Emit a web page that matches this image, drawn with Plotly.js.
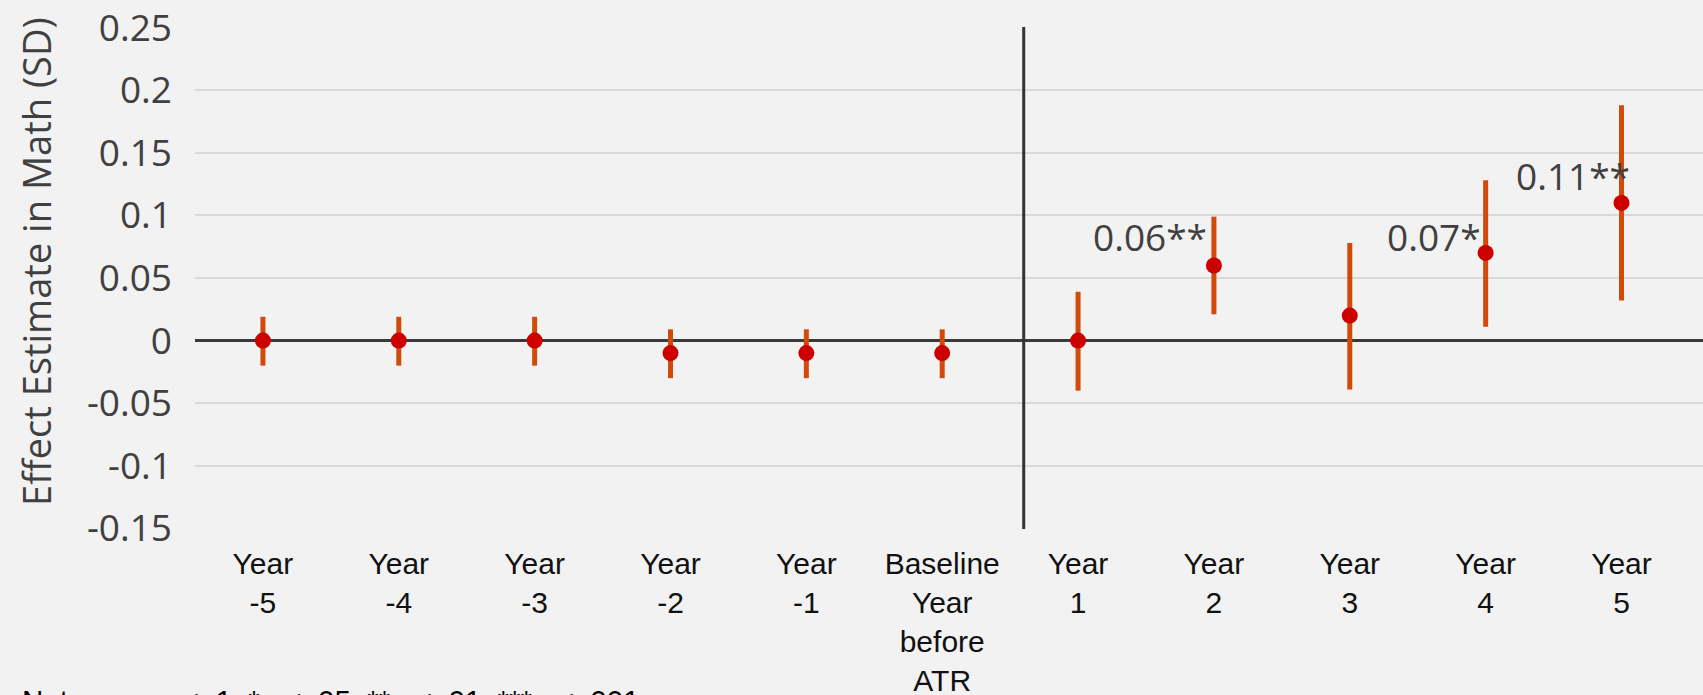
<!DOCTYPE html>
<html>
<head>
<meta charset="utf-8">
<script src="https://cdn.plot.ly/plotly-3.0.1.min.js"></script>
<style>
  html, body { margin: 0; padding: 0; background: #f2f2f2; }
  #chart { width: 1703px; height: 695px; }
</style>
</head>
<body>
<div id="chart"></div>
<script>
// ---- data ----
const categories = ['Year -5', 'Year -4', 'Year -3', 'Year -2', 'Year -1', 'Baseline Year before ATR',
                    'Year 1', 'Year 2', 'Year 3', 'Year 4', 'Year 5'];
const tickLabels = ['Year<br>-5', 'Year<br>-4', 'Year<br>-3', 'Year<br>-2', 'Year<br>-1',
                    'Baseline<br>Year<br>before<br>ATR', 'Year<br>1', 'Year<br>2', 'Year<br>3', 'Year<br>4', 'Year<br>5'];
const estimates = [0, 0, 0, -0.01, -0.01, -0.01, 0, 0.06, 0.02, 0.07, 0.11];
const ciUpper   = [0.019, 0.019, 0.019, 0.009, 0.009, 0.009, 0.039, 0.099, 0.078, 0.128, 0.188];
const ciLower   = [-0.02, -0.02, -0.02, -0.03, -0.03, -0.03, -0.04, 0.021, -0.039, 0.011, 0.032];
const sigLabels = ['', '', '', '', '', '', '', '0.06**', '', '0.07*', '0.11**'];
const yTickVals = [0.25, 0.2, 0.15, 0.1, 0.05, 0, -0.05, -0.1, -0.15];
const yTickText = ['0.25', '0.2', '0.15', '0.1', '0.05', '0', '-0.05', '-0.1', '-0.15'];
const atrStart = 5.6;   // position of the vertical divider (category index units)
const yTitle = 'Effect Estimate in Math (SD)';
const notesText = 'Notes:&nbsp;&nbsp;&nbsp; ~p < .1, *p < .05, **p < .01, ***p < .001';

// ---- styles ----
const labelShift = {7: [-5, 29], 9: [-3, 16], 10: [11, 27]};
const openSans = 'Open Sans, sans-serif';

const trace = {
  type: 'scatter',
  mode: 'markers',
  x: categories,
  y: estimates,
  marker: { color: '#cc0000', size: 16 },
  error_y: {
    type: 'data',
    symmetric: false,
    array: ciUpper.map((u, i) => u - estimates[i]),
    arrayminus: ciLower.map((l, i) => estimates[i] - l),
    color: '#d24a0a',
    thickness: 5,
    width: 0
  },
  hoverinfo: 'x+y',
  showlegend: false
};

const annotations = [];
sigLabels.forEach((t, i) => {
  if (!t) return;
  const s = labelShift[i] || [0, 20];
  annotations.push({
    x: categories[i], y: estimates[i], xref: 'x', yref: 'y',
    text: t, showarrow: false, xanchor: 'right', yanchor: 'middle',
    xshift: s[0], yshift: s[1],
    font: { family: openSans, size: 37, color: '#404040' }
  });
});
// y-axis title (placed as a rotated annotation to match the reference position)
annotations.push({
  x: 0, y: 0.532, xref: 'paper', yref: 'paper', xanchor: 'center', yanchor: 'middle',
  xshift: -159, textangle: -90, showarrow: false,
  text: yTitle,
  font: { family: openSans, size: 38, color: '#404040' }
});
// notes line, cut by the bottom edge as in the reference
annotations.push({
  x: 0, y: -0.304, xref: 'paper', yref: 'paper', xanchor: 'left', yanchor: 'top',
  xshift: -195 + 20,
  text: notesText, showarrow: false,
  font: { family: 'Liberation Sans, Arial, sans-serif', size: 29.5, color: '#000000' }
});

const layout = {
  width: 1703, height: 695,
  margin: { l: 195, r: 0, t: 27, b: 166, pad: 0 },
  paper_bgcolor: '#f2f2f2',
  plot_bgcolor: '#f2f2f2',
  showlegend: false,
  xaxis: {
    type: 'category',
    range: [-0.5, 10.6],
    tickvals: categories,
    ticktext: tickLabels,
    showgrid: false,
    zeroline: false,
    showline: false,
    ticks: '',
    ticklabelstandoff: 14,
    tickfont: { family: 'Liberation Sans, Arial, sans-serif', size: 30, color: '#111111' },
    fixedrange: true
  },
  yaxis: {
    range: [-0.1505, 0.2505],
    tickvals: yTickVals,
    ticktext: yTickText,
    showgrid: true,
    gridcolor: '#d9d9d9',
    gridwidth: 2,
    zeroline: true,
    zerolinecolor: '#3a3a3a',
    zerolinewidth: 3.5,
    showline: false,
    ticks: '',
    ticklabelstandoff: 22,
    tickfont: { family: openSans, size: 37, color: '#404040' },
    fixedrange: true
  },
  shapes: [{
    type: 'line', xref: 'x', yref: 'paper',
    x0: atrStart, x1: atrStart, y0: 0, y1: 1,
    line: { color: '#333333', width: 3 },
    layer: 'above'
  }],
  annotations: annotations
};

Plotly.newPlot('chart', [trace], layout, { displayModeBar: false, staticPlot: true });
</script>
</body>
</html>
